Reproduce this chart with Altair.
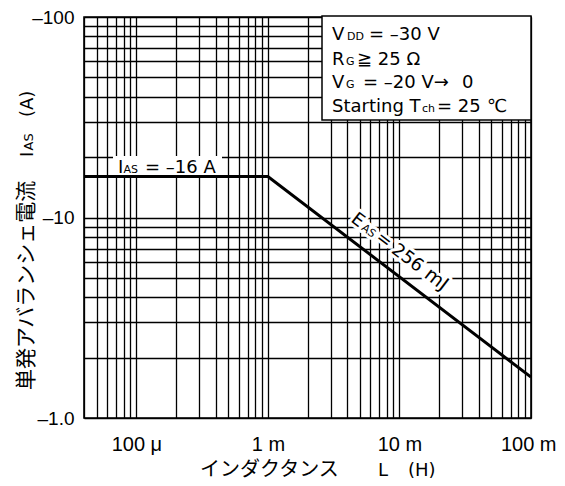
import altair as alt
import pandas as pd

# ---------------- data ----------------
L_H = [4e-5, 1e-3, 1e-1]            # inductance L (H)
I_AS = [-16.0, -16.0, -1.6]          # single avalanche current IAS (A)

x_grid = [4e-5, 5e-5, 6e-5, 7e-5, 8e-5, 9e-5,
          1e-4, 2e-4, 3e-4, 4e-4, 5e-4, 6e-4, 7e-4, 8e-4, 9e-4,
          1e-3, 2e-3, 3e-3, 4e-3, 5e-3, 6e-3, 7e-3, 8e-3, 9e-3,
          1e-2, 2e-2, 3e-2, 4e-2, 5e-2, 6e-2, 7e-2, 8e-2, 9e-2, 1e-1]
y_grid = [1, 2, 3, 4, 5, 6, 7, 8, 9, 10, 20, 30, 40, 50, 60, 70, 80, 90, 100]

x_tick_exp = [-4, -3, -2, -1]
x_tick_labels = ["100 μ", "1 m", "10 m", "100 m"]
y_tick_exp = [0, 1, 2]
y_tick_labels = ["–1.0", "–10", "–100"]

# ---------------- fonts ----------------
LAT = "Liberation Sans"
DV = "DejaVu Sans"
JP = "Noto Sans CJK JP"

df = pd.DataFrame({"L": L_H, "I": I_AS})
df["Imag"] = -df["I"]
one = pd.DataFrame({"a": [0]})

OX, OY = 84, 17  # page position of plot origin


def expr_for(exps, labels):
    parts = []
    for e, t in zip(exps, labels):
        parts.append(f"abs(log(datum.value)/LN10 - ({e})) < 0.01 ? '{t}'")
    return " : ".join(parts) + " : ''"


x_enc = alt.X(
    "L:Q",
    scale=alt.Scale(type="log", domain=[4e-5, 0.1], nice=False),
    axis=alt.Axis(values=x_grid, labelExpr=expr_for(x_tick_exp, x_tick_labels),
                  grid=True, gridColor="black", gridWidth=1.3, gridOpacity=1,
                  ticks=False, tickSize=0, domain=False, labelFont=LAT,
                  labelFontSize=20, labelColor="black", labelPadding=16,
                  labelAlign={"condition": {"test": "datum.value > 0.05", "value": "right"},
                              "value": "center"},
                  labelOffset={"condition": {"test": "datum.value > 0.05", "value": 25},
                               "value": 0},
                  labelFlush=False, labelOverlap=False, title=None),
)
y_enc = alt.Y(
    "Imag:Q",
    scale=alt.Scale(type="log", domain=[1, 100], nice=False),
    axis=alt.Axis(values=y_grid, labelExpr=expr_for(y_tick_exp, y_tick_labels),
                  grid=True, gridColor="black", gridWidth=1.3, gridOpacity=1,
                  ticks=False, tickSize=0, domain=False, labelFont=LAT,
                  labelFontSize=19, labelColor="black", labelPadding=10,
                  labelFlush=False, labelOverlap=False, title=None),
)

line = alt.Chart(df).mark_line(color="black", strokeWidth=3, clip=True).encode(x=x_enc, y=y_enc)


def rect(x1, y1, x2, y2, stroke=None):
    kw = dict(fill="white")
    if stroke:
        kw.update(stroke=stroke, strokeWidth=1.5)
    return alt.Chart(one).mark_rect(**kw).encode(
        x=alt.value(x1 - OX), x2=alt.value(x2 - OX),
        y=alt.value(y1 - OY), y2=alt.value(y2 - OY))


def txt(s, px, py, size, font=DV, angle=0, dx=0, baseline="alphabetic", halo=False):
    kw = dict(text=s, font=font, fontSize=size, align="left", baseline=baseline,
              angle=angle, dx=dx, color="black")
    if halo:
        kw.update(stroke="white", strokeWidth=6, strokeJoin="round", fill="white")
    return alt.Chart(one).mark_text(**kw).encode(x=alt.value(px - OX), y=alt.value(py - OY))


layers = []
# conditions box
layers.append(rect(322, 16, 531, 120, stroke="black"))
# white patch behind IAS label
layers.append(rect(113, 156, 222, 175))

# EAS label (rotated along the line)
ang = 37.3
PX, PY = 350, 221
eas = [("E", 18, 0), ("AS", 11, 13.5), ("=", 18, 31), ("256", 18, 51), ("mJ", 19, 92)]
for s, fs, d in eas:
    layers.append(txt(s, PX, PY, fs, angle=ang, dx=d, halo=True))

layers.append(line)

for s, fs, d in eas:
    layers.append(txt(s, PX, PY, fs, angle=ang, dx=d))

# IAS label
layers += [txt("I", 118, 173, 18), txt("AS", 123.5, 173, 11), txt("= –16 A", 145, 173, 18)]

# conditions
cond = [
    ("V", 332, 40, 18), ("DD", 347, 40, 11), ("= –30 V", 369, 40, 18),
    ("R", 332, 65, 18), ("G", 346, 65, 11), ("≧ 25 Ω", 357, 65, 18),
    ("V", 332, 88, 18), ("G", 346, 88, 11), ("= –20 V→", 363, 88, 18), ("0", 462, 88, 18),
    ("Starting T", 332, 112, 18), ("ch", 422, 112, 11), ("= 25", 437, 112, 18), ("℃", 487, 112, 18),
]
for s, x, y, fs in cond:
    layers.append(txt(s, x, y, fs))

# y-axis title (rotated)
layers.append(txt("単発アバランシェ電流", 27, 390, 21, font=JP, angle=270, baseline="middle"))
layers.append(txt("I", 33, 390, 18, angle=270, dx=233))
layers.append(txt("AS", 33, 390, 13, angle=270, dx=239.5))
layers.append(txt("(A)", 33, 390, 18, angle=270, dx=273))

# x-axis title
layers.append(txt("インダクタンス", 200, 470, 20, font=JP, baseline="middle"))
layers.append(txt("L", 378, 476, 18))
layers.append(txt("(H)", 408, 476, 18))

chart = alt.layer(*layers).properties(
    width=447, height=401,
    autosize=alt.AutoSizeParams(type="none"),
    padding={"left": 76, "top": 9, "right": 26, "bottom": 63},
).configure_view(stroke="black", strokeWidth=1.6)

chart.save("out.html", embed_options={"renderer": "svg", "actions": False})
